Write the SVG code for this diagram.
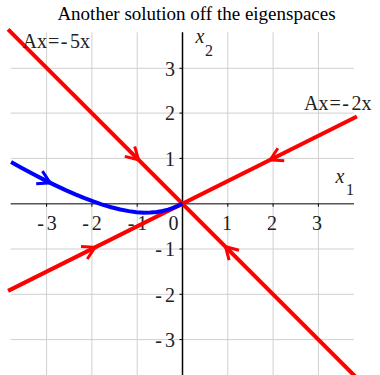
<svg xmlns="http://www.w3.org/2000/svg" width="380" height="375" viewBox="0 0 380 375">
<style>
.grid{stroke:#d0d0d0;stroke-width:1;fill:none}
.tick{stroke:#000;stroke-width:1}
.lbl{font-family:"Liberation Serif","Times New Roman",serif;font-size:20px;fill:#222}
.ttl{font-family:"Liberation Serif","Times New Roman",serif;font-size:19px;fill:#000}
.ax{font-family:"Liberation Serif","Times New Roman",serif;font-size:20px;font-style:italic;fill:#222}
.sub{font-family:"Liberation Serif","Times New Roman",serif;font-size:16px;fill:#222}
.red{stroke:#ff0000;stroke-width:4;fill:none;stroke-linecap:butt}
.blue{stroke:#0000ff;stroke-width:4;fill:none;stroke-linejoin:round}
.arr{fill:none;stroke-width:3;stroke-linejoin:miter;stroke-linecap:butt}
</style>
<rect width="380" height="375" fill="#fff"/>
<g id="title"><text class="ttl" x="196.5" y="20" text-anchor="middle">Another solution off the eigenspaces</text></g>
<g id="grid">
<path class="grid" d="M46.6 32.3V375M91.9 32.3V375M137.2 32.3V375M227.8 32.3V375M273.1 32.3V375M318.4 32.3V375M10.7 68.3H354M10.7 113.1H354M10.7 158.4H354M10.7 249H354M10.7 294.3H354M10.7 339.6H354"/>
</g>
<g id="axes">
<line x1="10.7" y1="203.7" x2="354" y2="203.7" stroke="#555" stroke-width="1.5"/>
<line x1="182.5" y1="32.3" x2="182.5" y2="375" stroke="#000" stroke-width="1.5"/>
<path class="tick" d="M46.6 203.7v3M91.9 203.7v3M137.2 203.7v3M227.8 203.7v3M273.1 203.7v3M318.4 203.7v3M182.5 68.3h-3M182.5 113.1h-3M182.5 158.4h-3M182.5 249h-3M182.5 294.3h-3M182.5 339.6h-3"/>
</g>
<g id="ticklabels" class="lbl">
<text x="47" y="229.5" text-anchor="middle">-<tspan dx="3">3</tspan></text>
<text x="92" y="229.5" text-anchor="middle">-<tspan dx="3">2</tspan></text>
<text x="137.5" y="229.5" text-anchor="middle">-<tspan dx="3">1</tspan></text>
<text x="178.5" y="229.5" text-anchor="end">0</text>
<text x="227" y="229.5" text-anchor="middle">1</text>
<text x="272" y="229.5" text-anchor="middle">2</text>
<text x="317" y="229.5" text-anchor="middle">3</text>
<text x="175" y="75.5" text-anchor="end">3</text>
<text x="175" y="120.3" text-anchor="end">2</text>
<text x="175" y="165.6" text-anchor="end">1</text>
<text x="175" y="256.2" text-anchor="end">-<tspan dx="3">1</tspan></text>
<text x="175" y="301.5" text-anchor="end">-<tspan dx="3">2</tspan></text>
<text x="175" y="346.8" text-anchor="end">-<tspan dx="3">3</tspan></text>
</g>
<g id="axislabels">
<text class="ax" x="335.5" y="183">x</text><text class="sub" x="346" y="194.5">1</text>
<text class="ax" x="195.5" y="43">x</text><text class="sub" x="205" y="55.5">2</text>
</g>
<g id="connectors">
<g id="eig5">
<line class="red" x1="8.1" y1="29.3" x2="356.9" y2="378.1"/>
<path class="arr" stroke="#ff0000" d="M124.8 156.4L138.6 159.8L134.7 146.5"/>
<path class="arr" stroke="#ff0000" d="M239 250.3L225.5 246.7L229.1 260.2"/>
</g>
<g id="eig2">
<line class="red" x1="8.1" y1="290.9" x2="356.9" y2="116.5"/>
<path class="arr" stroke="#ff0000" d="M284.2 160.7L270.2 159.9L277.9 148.2"/>
<path class="arr" stroke="#ff0000" d="M81 246.5L95 247.3L87.3 259"/>
</g>
<g id="solution">
<polyline class="blue" points="11.04,162.02 21.77,168.0 33.53,174.32 44.76,180.12 55.46,185.38 65.65,190.14 75.34,194.39 84.55,198.16 93.28,201.46 101.56,204.3 111.29,207.23 120.35,209.5 128.78,211.14 136.62,212.18 143.88,212.65 150.62,212.59 156.87,212.05 162.68,211.06 168.08,209.66 173.14,207.93 177.92,205.91 182.5,203.7"/>
<path class="arr" stroke="#0000ff" d="M36.2 183.7L50.2 182.8L42.4 171.2"/>
</g>
</g>
<g id="eiglabels" class="lbl">
<text x="22.5" y="47.5">Ax<tspan dx="1">=</tspan><tspan dx="1.5">-</tspan><tspan dx="2.5">5x</tspan></text>
<text x="304" y="110">Ax<tspan dx="1">=</tspan><tspan dx="1.5">-</tspan><tspan dx="2.5">2x</tspan></text>
</g>
</svg>
